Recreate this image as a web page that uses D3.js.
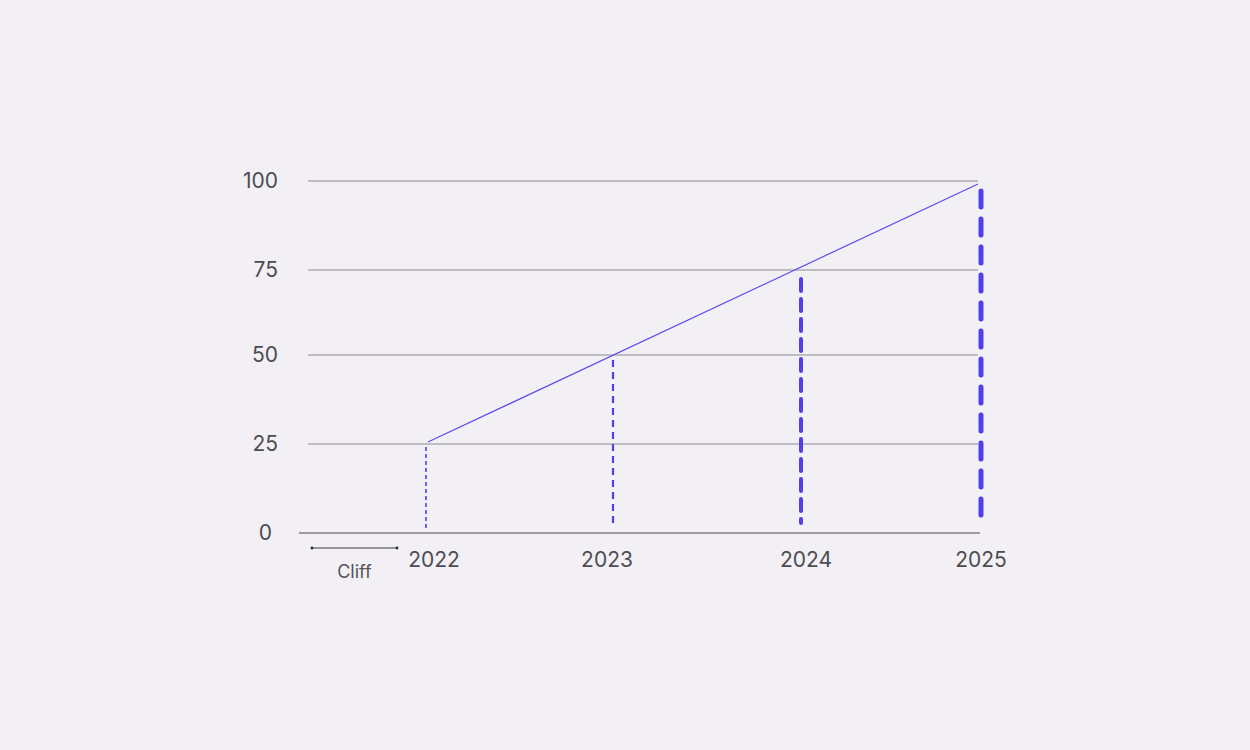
<!DOCTYPE html>
<html>
<head>
  <meta charset="UTF-8">
  <title>Vesting schedule</title>
  <script src="https://cdn.jsdelivr.net/npm/d3@7"></script>
  <style>
    html, body { margin: 0; padding: 0; background: #f2f0f4; }
    svg { display: block; font-family: Inter, "Noto Sans", sans-serif; }
  </style>
</head>
<body>
<svg id="svg" width="1250" height="750"></svg>

<script type="text/javascript">

  // vesting data
  var years  = [2022, 2023, 2024, 2025];
  var vested = [25, 50, 75, 100];
  var yTicks = [0, 25, 50, 75, 100];
  var cliff  = [2021.39, 2021.845];
  var cliffLabel = 'Cliff';

  // dash style grows with each year
  var dashW   = [1.6, 2.2, 4, 5];
  var dashArr = ['4,3', '7,5', '12,8', '16,12'];

  var svg = d3.select('#svg');

  // the original spacing is slightly uneven, so piecewise scales
  var x = d3.scaleLinear().domain(years).range([426, 613, 801, 981]);
  var y = d3.scaleLinear().domain(yTicks).range([533, 444, 355, 270, 181]);

  // horizontal grid
  svg.append('g').selectAll('line')
    .data(yTicks)
    .enter().append('line')
      .attr('x1', function(d){ return d === 0 ? 299 : 308; })
      .attr('x2', function(d){ return d === 0 ? 980 : 978; })
      .attr('y1', function(d){ return y(d); })
      .attr('y2', function(d){ return y(d); })
      .style('stroke', function(d){ return d === 0 ? '#9d9ba0' : '#aeacb0'; })
      .style('stroke-width', function(d){ return d === 0 ? 2 : 1.4; });

  // y labels
  svg.append('g').selectAll('text')
    .data(yTicks)
    .enter().append('text')
      .attr('x', function(d){ return d === 0 ? 272 : 278; })
      .attr('y', function(d){ return y(d); })
      .attr('dy', '0.35em')
      .attr('text-anchor', 'end')
      .style('font-size', '21px')
      .style('fill', '#4d4c52')
      .text(function(d){ return d; });

  // x labels
  svg.append('g').selectAll('text')
    .data(years)
    .enter().append('text')
      .attr('x', function(d){ return x(d) + (d === 2022 ? 8 : d === 2023 ? -6 : d === 2024 ? 5 : 0); })
      .attr('y', 560)
      .attr('dy', '0.35em')
      .attr('text-anchor', 'middle')
      .style('font-size', '21px')
      .style('fill', '#4d4c52')
      .text(function(d){ return d; });

  // dashed verticals
  svg.append('g').selectAll('line')
    .data(years)
    .enter().append('line')
      .attr('x1', function(d){ return x(d); })
      .attr('x2', function(d){ return x(d); })
      .attr('y1', function(d, i){ return y(vested[i]) + [3, 5, 9, 10][i]; })
      .attr('y2', function(d, i){ return y(0) - [3, 6, 10, 12][i]; })
      .style('stroke', '#5040ea')
      .style('stroke-width', function(d, i){ return dashW[i]; })
      .style('stroke-dasharray', function(d, i){ return dashArr[i]; })
      .style('stroke-linecap', function(d, i){ return i > 1 ? 'round' : 'butt'; });

  // vesting line, first to last point
  svg.append('path')
    .datum([vested[0], vested[vested.length - 1]])
    .attr('d', function(d){
      var p0 = [x(years[0]) + 2, y(d[0]) - 2];
      var p1 = [x(years[years.length - 1]) - 3, y(d[1]) + 3];
      return 'M' + p0 + 'L' + p1;
    })
    .style('fill', 'none')
    .style('stroke', '#5b4bf2')
    .style('stroke-width', 1.2);

  // cliff bracket
  var cl = svg.append('g');
  cl.append('line')
    .attr('x1', x(cliff[0]))
    .attr('x2', x(cliff[1]))
    .attr('y1', 548)
    .attr('y2', 548)
    .style('stroke', '#3a393d')
    .style('stroke-width', 1);
  cl.selectAll('circle')
    .data(cliff)
    .enter().append('circle')
      .attr('cx', function(d){ return x(d); })
      .attr('cy', 548)
      .attr('r', 1.4)
      .style('fill', '#2a292d');
  cl.append('text')
    .attr('x', (x(cliff[0]) + x(cliff[1])) / 2)
    .attr('y', 572)
    .attr('dy', '0.35em')
    .attr('text-anchor', 'middle')
    .style('font-size', '18px')
    .style('fill', '#55545a')
    .text(cliffLabel);

</script>
</body>
</html>
